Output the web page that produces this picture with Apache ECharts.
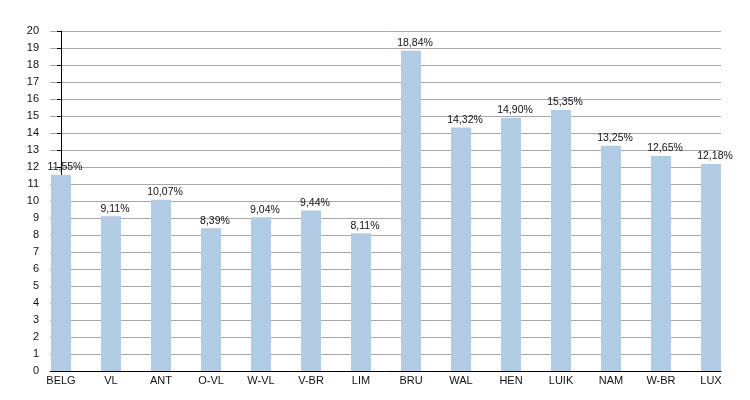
<!DOCTYPE html>
<html><head><meta charset="utf-8">
<script src="https://cdn.jsdelivr.net/npm/echarts@6/dist/echarts.min.js"></script>
<style>html,body{margin:0;padding:0;background:#fff}#c{width:750px;height:400px}</style>
</head><body><div id="c"></div>
<script>
const categories = ['BELG','VL','ANT','O-VL','W-VL','V-BR','LIM','BRU','WAL','HEN','LUIK','NAM','W-BR','LUX'];
const values = [11.55, 9.11, 10.07, 8.39, 9.04, 9.44, 8.11, 18.84, 14.32, 14.90, 15.35, 13.25, 12.65, 12.18];
const yTicks = [0,1,2,3,4,5,6,7,8,9,10,11,12,13,14,15,16,17,18,19,20];

const chart = echarts.init(document.getElementById('c'));
const font = 'Liberation Sans, Arial, Helvetica, sans-serif';
chart.setOption({
  animation: false,
  grid: {left: 50, right: 29, top: 31, bottom: 29},
  xAxis: {
    type: 'value', min: -0.22, max: 13.2,
    axisLine: {show: true, onZero: false, lineStyle: {color: '#000', width: 1}},
    axisTick: {show: false},
    splitLine: {show: false},
    axisLabel: {
      customValues: categories.map((c, i) => i),
      formatter: v => categories[Math.round(v)],
      color: '#111', fontSize: 11, fontFamily: font, margin: 4
    }
  },
  yAxis: {
    type: 'value', min: 0, max: 20, interval: 1,
    axisLine: {show: true, lineStyle: {color: '#000', width: 1}},
    axisTick: {show: true, length: 4, lineStyle: {color: '#000'}},
    splitLine: {show: true, lineStyle: {color: '#a8a8a8', width: 1}},
    axisLabel: {color: '#111', fontSize: 11, fontFamily: font, margin: 11,
      customValues: yTicks}
  },
  series: [{
    type: 'bar',
    barWidth: 20,
    data: values.map((v, i) => [i, v]),
    itemStyle: {color: '#b3cce5'},
    label: {
      show: true, position: 'top', distance: 2, offset: [4, 0],
      formatter: p => p.value[1].toFixed(2).replace('.', ',') + '%',
      color: '#111', fontSize: 10.5, fontFamily: font
    }
  }]
});
</script></body></html>
